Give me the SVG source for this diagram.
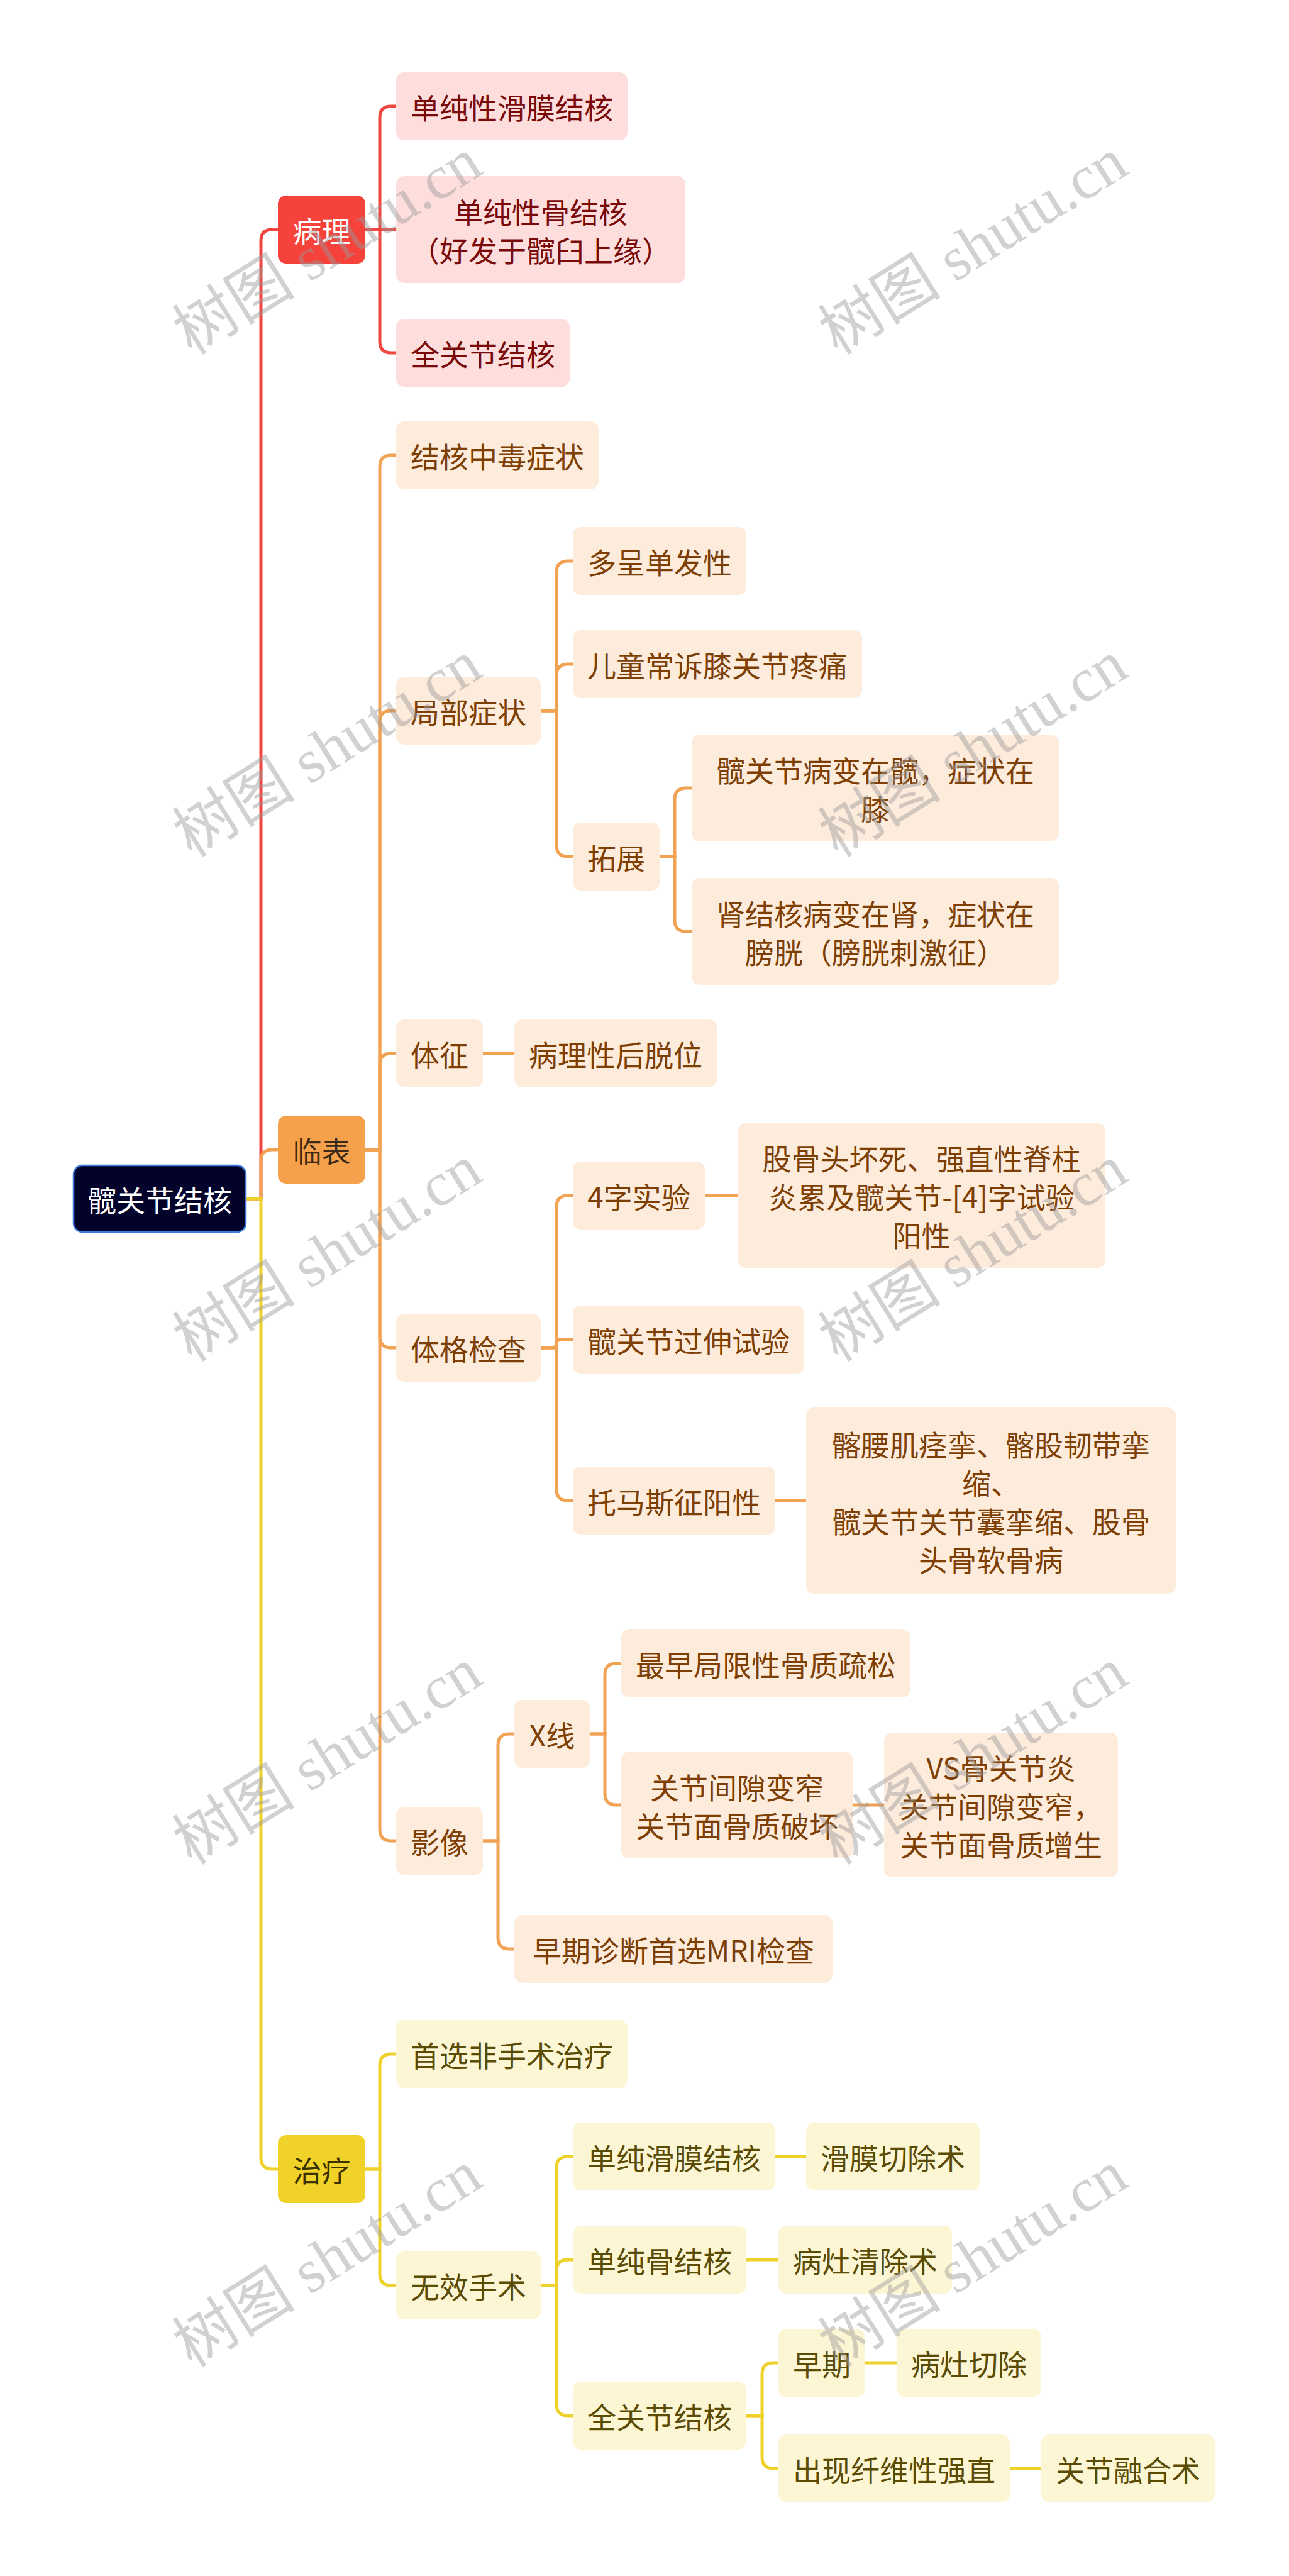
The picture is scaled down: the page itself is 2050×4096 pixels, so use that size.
<svg xmlns="http://www.w3.org/2000/svg" width="2050" height="4096" viewBox="0 0 2050 4096">
<style>
text{font-family:"Noto Sans CJK SC","Noto Sans",sans-serif;font-size:46px;text-anchor:middle;dominant-baseline:central}
.c path{fill:none;stroke-width:5;stroke-linecap:round}
.cr{stroke:#F0463F}.co{stroke:#F2A253}.cy{stroke:#EFD12B}
.r1{fill:#F5423B}.r2{fill:#FDDEDD}.tr1{fill:#FFFFFF}.tr2{fill:#7A0A0A}
.o1{fill:#F5A14C}.o2{fill:#FDEBDC}.to1{fill:#3B2A18}.to2{fill:#7E3F05}
.y1{fill:#F0D228}.y2{fill:#FDF6D4}.ty1{fill:#3A3200}.ty2{fill:#5A4B05}
.wm{font-family:"Liberation Serif","Noto Sans CJK SC",serif;font-size:98px;text-anchor:start;dominant-baseline:auto;fill:#9a9a9a;opacity:0.45}
</style>
<rect width="2050" height="4096" fill="#FFFFFF"/>
<g class="c" id="connectors">
<path class="cr" d="M391,1906 H415 V383 Q415,365 433,365 H442"/>
<path class="co" d="M391,1906 H415 V1846 Q415,1828 433,1828 H442"/>
<path class="cy" d="M391,1906 H415 V3431 Q415,3449 433,3449 H442"/>
<path class="cr" d="M581,365 H604 V187 Q604,169 622,169 H630"/>
<path class="cr" d="M581,365 H630"/>
<path class="cr" d="M581,365 H604 V543 Q604,561 622,561 H630"/>
<path class="co" d="M581,1828 H604 V742 Q604,724 622,724 H630"/>
<path class="co" d="M581,1828 H604 V1148 Q604,1130 622,1130 H630"/>
<path class="co" d="M581,1828 H604 V1693 Q604,1675 622,1675 H630"/>
<path class="co" d="M581,1828 H604 V2125 Q604,2143 622,2143 H630"/>
<path class="co" d="M581,1828 H604 V2909 Q604,2927 622,2927 H630"/>
<path class="co" d="M860,1130 H885 V910 Q885,892 903,892 H911"/>
<path class="co" d="M860,1130 H885 V1074 Q885,1056 903,1056 H911"/>
<path class="co" d="M860,1130 H885 V1344 Q885,1362 903,1362 H911"/>
<path class="co" d="M1049,1362 H1073 V1271 Q1073,1253 1091,1253 H1100"/>
<path class="co" d="M1049,1362 H1073 V1463 Q1073,1481 1091,1481 H1100"/>
<path class="co" d="M768,1675 H818"/>
<path class="co" d="M860,2143 H885 V1919 Q885,1901 903,1901 H911"/>
<path class="co" d="M860,2143 H877 Q885,2143 885,2136.5 Q885,2130 893,2130 H911"/>
<path class="co" d="M860,2143 H885 V2368 Q885,2386 903,2386 H911"/>
<path class="co" d="M1121,1901 H1173"/>
<path class="co" d="M1233,2386 H1282"/>
<path class="co" d="M768,2927 H792 V2775 Q792,2757 810,2757 H818"/>
<path class="co" d="M768,2927 H792 V3081 Q792,3099 810,3099 H818"/>
<path class="co" d="M938,2757 H962 V2663 Q962,2645 980,2645 H988"/>
<path class="co" d="M938,2757 H962 V2852 Q962,2870 980,2870 H988"/>
<path class="co" d="M1356,2870 H1406"/>
<path class="cy" d="M581,3449 H604 V3284 Q604,3266 622,3266 H630"/>
<path class="cy" d="M581,3449 H604 V3616 Q604,3634 622,3634 H630"/>
<path class="cy" d="M860,3634 H885 V3447 Q885,3429 903,3429 H911"/>
<path class="cy" d="M860,3634 H885 V3611 Q885,3593 903,3593 H911"/>
<path class="cy" d="M860,3634 H885 V3823 Q885,3841 903,3841 H911"/>
<path class="cy" d="M1233,3429 H1282"/>
<path class="cy" d="M1187,3593 H1238"/>
<path class="cy" d="M1187,3841 H1212 V3775 Q1212,3757 1230,3757 H1238"/>
<path class="cy" d="M1187,3841 H1212 V3907 Q1212,3925 1230,3925 H1238"/>
<path class="cy" d="M1376,3757 H1426"/>
<path class="cy" d="M1606,3925 H1656"/>
</g>
<g id="root"><rect x="117" y="1853" width="274" height="106" rx="14" fill="#03022B" stroke="#3C7BE0" stroke-width="2.5"/><text x="254" y="1906" fill="#FFFFFF">髋关节结核</text></g>
<g id="n-bingli"><rect class="r1" x="442" y="311" width="139" height="108" rx="13"/><text class="tr1" x="511.5" y="365">病理</text></g>
<g id="n-bl1"><rect class="r2" x="630" y="115" width="368" height="108" rx="13"/><text class="tr2" x="814" y="169">单纯性滑膜结核</text></g>
<g id="n-bl2"><rect class="r2" x="630" y="280" width="460" height="170" rx="13"/><text class="tr2" x="860" y="334.5">单纯性骨结核</text><text class="tr2" x="860" y="395.5">（好发于髋臼上缘）</text></g>
<g id="n-bl3"><rect class="r2" x="630" y="507" width="276" height="108" rx="13"/><text class="tr2" x="768" y="561">全关节结核</text></g>
<g id="n-linbiao"><rect class="o1" x="442" y="1774" width="139" height="108" rx="13"/><text class="to1" x="511.5" y="1828">临表</text></g>
<g id="n-lb1"><rect class="o2" x="630" y="670" width="322" height="108" rx="13"/><text class="to2" x="791" y="724">结核中毒症状</text></g>
<g id="n-lb2"><rect class="o2" x="630" y="1076" width="230" height="108" rx="13"/><text class="to2" x="745" y="1130">局部症状</text></g>
<g id="n-lb21"><rect class="o2" x="911" y="838" width="276" height="108" rx="13"/><text class="to2" x="1049" y="892">多呈单发性</text></g>
<g id="n-lb22"><rect class="o2" x="911" y="1002" width="460" height="108" rx="13"/><text class="to2" x="1141" y="1056">儿童常诉膝关节疼痛</text></g>
<g id="n-lb23"><rect class="o2" x="911" y="1308" width="138" height="108" rx="13"/><text class="to2" x="980" y="1362">拓展</text></g>
<g id="n-lb231"><rect class="o2" x="1100" y="1168" width="584" height="170" rx="13"/><text class="to2" x="1392" y="1222.5">髋关节病变在髋，症状在</text><text class="to2" x="1392" y="1283.5">膝</text></g>
<g id="n-lb232"><rect class="o2" x="1100" y="1396" width="584" height="170" rx="13"/><text class="to2" x="1392" y="1450.5">肾结核病变在肾，症状在</text><text class="to2" x="1392" y="1511.5">膀胱（膀胱刺激征）</text></g>
<g id="n-lb3"><rect class="o2" x="630" y="1621" width="138" height="108" rx="13"/><text class="to2" x="699" y="1675">体征</text></g>
<g id="n-lb31"><rect class="o2" x="818" y="1621" width="322" height="108" rx="13"/><text class="to2" x="979" y="1675">病理性后脱位</text></g>
<g id="n-lb4"><rect class="o2" x="630" y="2089" width="230" height="108" rx="13"/><text class="to2" x="745" y="2143">体格检查</text></g>
<g id="n-lb41"><rect class="o2" x="911" y="1847" width="210" height="108" rx="13"/><text class="to2" x="1016" y="1901">4字实验</text></g>
<g id="n-lb411"><rect class="o2" x="1173" y="1786" width="585" height="230" rx="13"/><text class="to2" x="1465.5" y="1840">股骨头坏死、强直性脊柱</text><text class="to2" x="1465.5" y="1901">炎累及髋关节-[4]字试验</text><text class="to2" x="1465.5" y="1962">阳性</text></g>
<g id="n-lb42"><rect class="o2" x="911" y="2076" width="368" height="108" rx="13"/><text class="to2" x="1095" y="2130">髋关节过伸试验</text></g>
<g id="n-lb43"><rect class="o2" x="911" y="2332" width="322" height="108" rx="13"/><text class="to2" x="1072" y="2386">托马斯征阳性</text></g>
<g id="n-lb431"><rect class="o2" x="1282" y="2238" width="588" height="296" rx="13"/><text class="to2" x="1576" y="2294.5">髂腰肌痉挛、髂股韧带挛</text><text class="to2" x="1576" y="2355.5">缩、</text><text class="to2" x="1576" y="2416.5">髋关节关节囊挛缩、股骨</text><text class="to2" x="1576" y="2477.5">头骨软骨病</text></g>
<g id="n-lb5"><rect class="o2" x="630" y="2873" width="138" height="108" rx="13"/><text class="to2" x="699" y="2927">影像</text></g>
<g id="n-lb51"><rect class="o2" x="818" y="2703" width="120" height="108" rx="13"/><text class="to2" x="878" y="2757">X线</text></g>
<g id="n-lb511"><rect class="o2" x="988" y="2591" width="460" height="108" rx="13"/><text class="to2" x="1218" y="2645">最早局限性骨质疏松</text></g>
<g id="n-lb512"><rect class="o2" x="988" y="2785" width="368" height="170" rx="13"/><text class="to2" x="1172" y="2839.5">关节间隙变窄</text><text class="to2" x="1172" y="2900.5">关节面骨质破坏</text></g>
<g id="n-lb5121"><rect class="o2" x="1406" y="2755" width="372" height="230" rx="13"/><text class="to2" x="1592" y="2809">VS骨关节炎</text><text class="to2" x="1592" y="2870">关节间隙变窄，</text><text class="to2" x="1592" y="2931">关节面骨质增生</text></g>
<g id="n-lb52"><rect class="o2" x="818" y="3045" width="506" height="108" rx="13"/><text class="to2" x="1071" y="3099">早期诊断首选MRI检查</text></g>
<g id="n-zhiliao"><rect class="y1" x="442" y="3395" width="139" height="108" rx="13"/><text class="ty1" x="511.5" y="3449">治疗</text></g>
<g id="n-zl1"><rect class="y2" x="630" y="3212" width="368" height="108" rx="13"/><text class="ty2" x="814" y="3266">首选非手术治疗</text></g>
<g id="n-zl2"><rect class="y2" x="630" y="3580" width="230" height="108" rx="13"/><text class="ty2" x="745" y="3634">无效手术</text></g>
<g id="n-zl21"><rect class="y2" x="911" y="3375" width="322" height="108" rx="13"/><text class="ty2" x="1072" y="3429">单纯滑膜结核</text></g>
<g id="n-zl211"><rect class="y2" x="1282" y="3375" width="276" height="108" rx="13"/><text class="ty2" x="1420" y="3429">滑膜切除术</text></g>
<g id="n-zl22"><rect class="y2" x="911" y="3539" width="276" height="108" rx="13"/><text class="ty2" x="1049" y="3593">单纯骨结核</text></g>
<g id="n-zl221"><rect class="y2" x="1238" y="3539" width="276" height="108" rx="13"/><text class="ty2" x="1376" y="3593">病灶清除术</text></g>
<g id="n-zl23"><rect class="y2" x="911" y="3787" width="276" height="108" rx="13"/><text class="ty2" x="1049" y="3841">全关节结核</text></g>
<g id="n-zl231"><rect class="y2" x="1238" y="3703" width="138" height="108" rx="13"/><text class="ty2" x="1307" y="3757">早期</text></g>
<g id="n-zl2311"><rect class="y2" x="1426" y="3703" width="230" height="108" rx="13"/><text class="ty2" x="1541" y="3757">病灶切除</text></g>
<g id="n-zl232"><rect class="y2" x="1238" y="3871" width="368" height="108" rx="13"/><text class="ty2" x="1422" y="3925">出现纤维性强直</text></g>
<g id="n-zl2321"><rect class="y2" x="1656" y="3871" width="276" height="108" rx="13"/><text class="ty2" x="1794" y="3925">关节融合术</text></g>
<g id="watermarks">
<text class="wm" transform="translate(305,566) rotate(-32)">树图 shutu.cn</text>
<text class="wm" transform="translate(1332,566) rotate(-32)">树图 shutu.cn</text>
<text class="wm" transform="translate(305,1365) rotate(-32)">树图 shutu.cn</text>
<text class="wm" transform="translate(1332,1365) rotate(-32)">树图 shutu.cn</text>
<text class="wm" transform="translate(305,2167) rotate(-32)">树图 shutu.cn</text>
<text class="wm" transform="translate(1332,2167) rotate(-32)">树图 shutu.cn</text>
<text class="wm" transform="translate(305,2967) rotate(-32)">树图 shutu.cn</text>
<text class="wm" transform="translate(1332,2967) rotate(-32)">树图 shutu.cn</text>
<text class="wm" transform="translate(305,3766) rotate(-32)">树图 shutu.cn</text>
<text class="wm" transform="translate(1332,3766) rotate(-32)">树图 shutu.cn</text>
</g>
</svg>
